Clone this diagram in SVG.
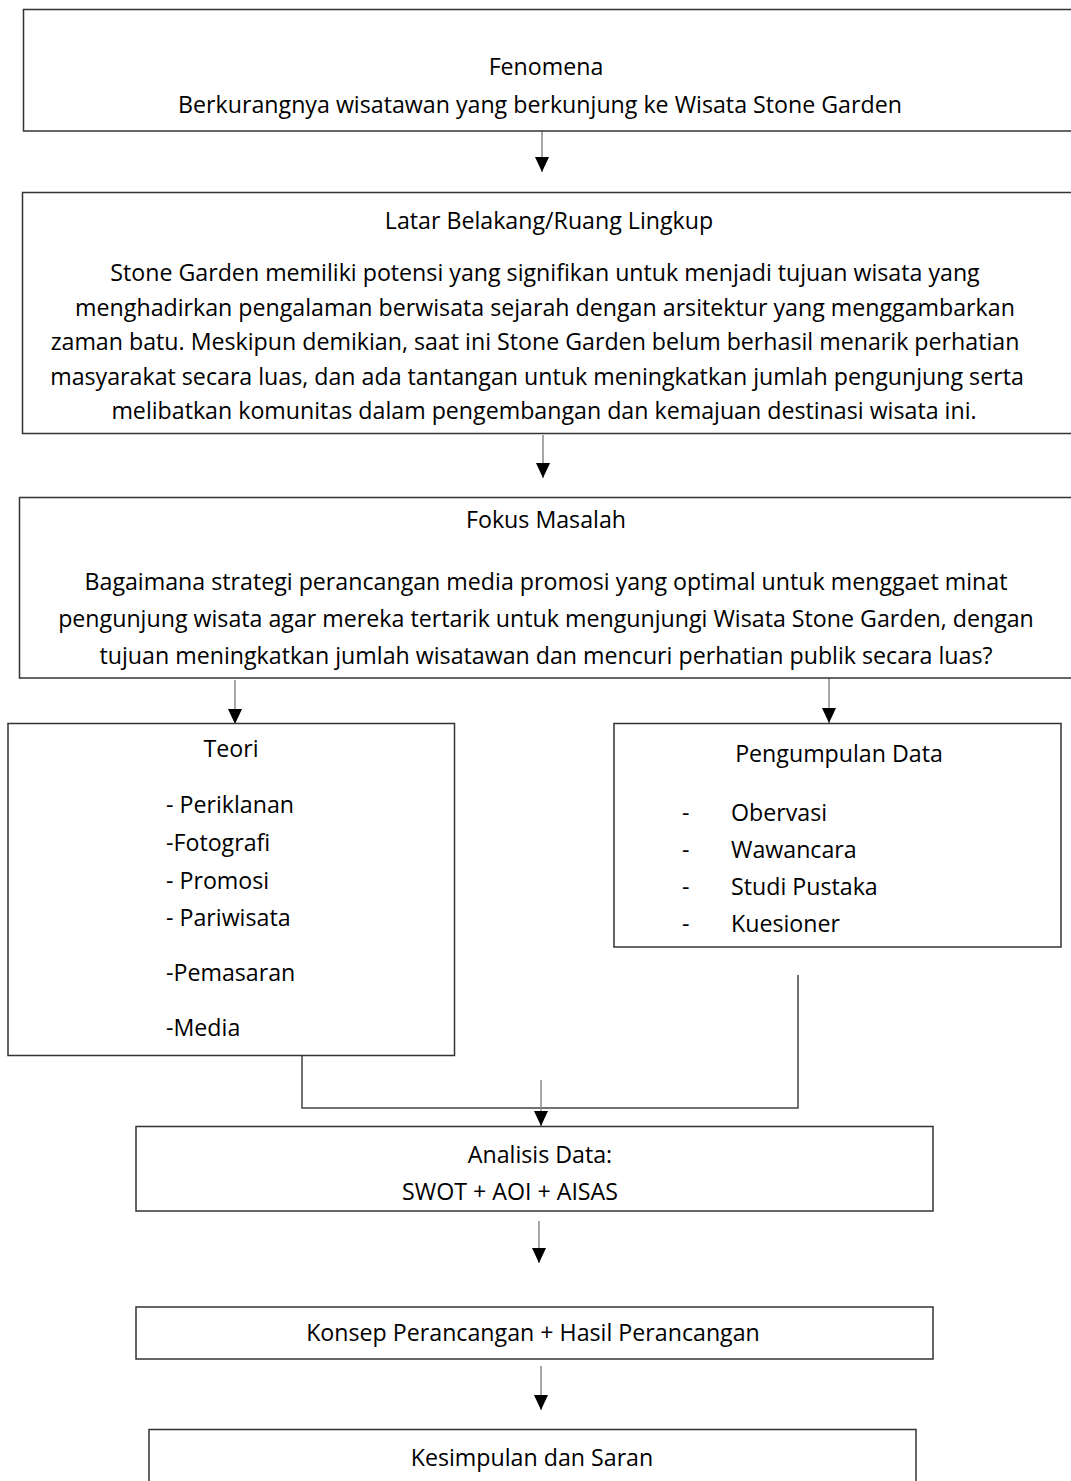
<svg xmlns="http://www.w3.org/2000/svg" width="1071" height="1481" viewBox="0 0 1071 1481">
<style>
  .box{fill:#fff;stroke:#333;stroke-width:1.5}
  text{font-family:"Open Sans","Noto Sans",sans-serif;font-size:23.2px;fill:#000}
  .c{text-anchor:middle}
  .ln{fill:none;stroke:#8a8a8a;stroke-width:1.5}
  .cn{fill:none;stroke:#444;stroke-width:1.5}
  .hd{fill:#000}
</style>
<defs>
  <marker id="ah" viewBox="0 0 15 14" refX="15" refY="7" markerWidth="15" markerHeight="14" markerUnits="userSpaceOnUse" orient="auto">
    <path d="M0,0 L15,7 L0,14 Z" class="hd"/>
  </marker>
</defs>
<rect width="1071" height="1481" fill="#fff"/>

<g id="connectors">
  <line class="ln" x1="542" y1="126" x2="542" y2="172" marker-end="url(#ah)"/>
  <line class="ln" x1="543" y1="435" x2="543" y2="478" marker-end="url(#ah)"/>
  <line class="ln" x1="235" y1="680" x2="235" y2="724" marker-end="url(#ah)"/>
  <line class="ln" x1="829" y1="678" x2="829" y2="723" marker-end="url(#ah)"/>
  <polyline class="cn" points="302,1056 302,1108 798,1108 798,975"/>
  <line class="ln" x1="541" y1="1080" x2="541" y2="1126" marker-end="url(#ah)"/>
  <line class="ln" x1="539" y1="1221" x2="539" y2="1263" marker-end="url(#ah)"/>
  <line class="ln" x1="541" y1="1366" x2="541" y2="1410" marker-end="url(#ah)"/>
</g>

<g id="fenomena">
  <rect class="box" x="23.5" y="9.5" width="1070" height="121.5"/>
  <text class="c" x="546" y="75">Fenomena</text>
  <text class="c" x="540" y="113">Berkurangnya wisatawan yang berkunjung ke Wisata Stone Garden</text>
</g>

<g id="latar">
  <rect class="box" x="22.5" y="192.5" width="1070" height="241"/>
  <text class="c" x="549" y="229">Latar Belakang/Ruang Lingkup</text>
  <text class="c" x="545" y="281">Stone Garden memiliki potensi yang signifikan untuk menjadi tujuan wisata yang</text>
  <text class="c" x="545" y="316">menghadirkan pengalaman berwisata sejarah dengan arsitektur yang menggambarkan</text>
  <text class="c" x="535" y="350">zaman batu. Meskipun demikian, saat ini Stone Garden belum berhasil menarik perhatian</text>
  <text class="c" x="537" y="385">masyarakat secara luas, dan ada tantangan untuk meningkatkan jumlah pengunjung serta</text>
  <text class="c" x="544" y="419">melibatkan komunitas dalam pengembangan dan kemajuan destinasi wisata ini.</text>
</g>

<g id="fokus">
  <rect class="box" x="19.5" y="497.5" width="1070" height="180.5"/>
  <text class="c" x="546" y="528">Fokus Masalah</text>
  <text class="c" x="546" y="590">Bagaimana strategi perancangan media promosi yang optimal untuk menggaet minat</text>
  <text class="c" x="546" y="627">pengunjung wisata agar mereka tertarik untuk mengunjungi Wisata Stone Garden, dengan</text>
  <text class="c" x="546" y="664">tujuan meningkatkan jumlah wisatawan dan mencuri perhatian publik secara luas?</text>
</g>

<g id="teori">
  <rect class="box" x="8" y="723.5" width="446.5" height="332"/>
  <text class="c" x="231" y="757">Teori</text>
  <text x="166" y="813">- Periklanan</text>
  <text x="166" y="851">-Fotografi</text>
  <text x="166" y="889">- Promosi</text>
  <text x="166" y="926">- Pariwisata</text>
  <text x="166" y="981">-Pemasaran</text>
  <text x="166" y="1036">-Media</text>
</g>

<g id="pengumpulan">
  <rect class="box" x="614" y="723.5" width="447" height="223.5"/>
  <text class="c" x="839" y="762">Pengumpulan Data</text>
  <text x="682" y="821">-</text><text x="731" y="821">Obervasi</text>
  <text x="682" y="858">-</text><text x="731" y="858">Wawancara</text>
  <text x="682" y="895">-</text><text x="731" y="895">Studi Pustaka</text>
  <text x="682" y="932">-</text><text x="731" y="932">Kuesioner</text>
</g>

<g id="analisis">
  <rect class="box" x="136" y="1126.5" width="797" height="84.5"/>
  <text class="c" x="540" y="1163">Analisis Data:</text>
  <text class="c" x="510" y="1200">SWOT + AOI + AISAS</text>
</g>

<g id="konsep">
  <rect class="box" x="136" y="1307" width="797" height="52"/>
  <text class="c" x="533" y="1341">Konsep Perancangan + Hasil Perancangan</text>
</g>

<g id="kesimpulan">
  <rect class="box" x="149" y="1429.5" width="767" height="70"/>
  <text class="c" x="532" y="1466">Kesimpulan dan Saran</text>
</g>
</svg>
